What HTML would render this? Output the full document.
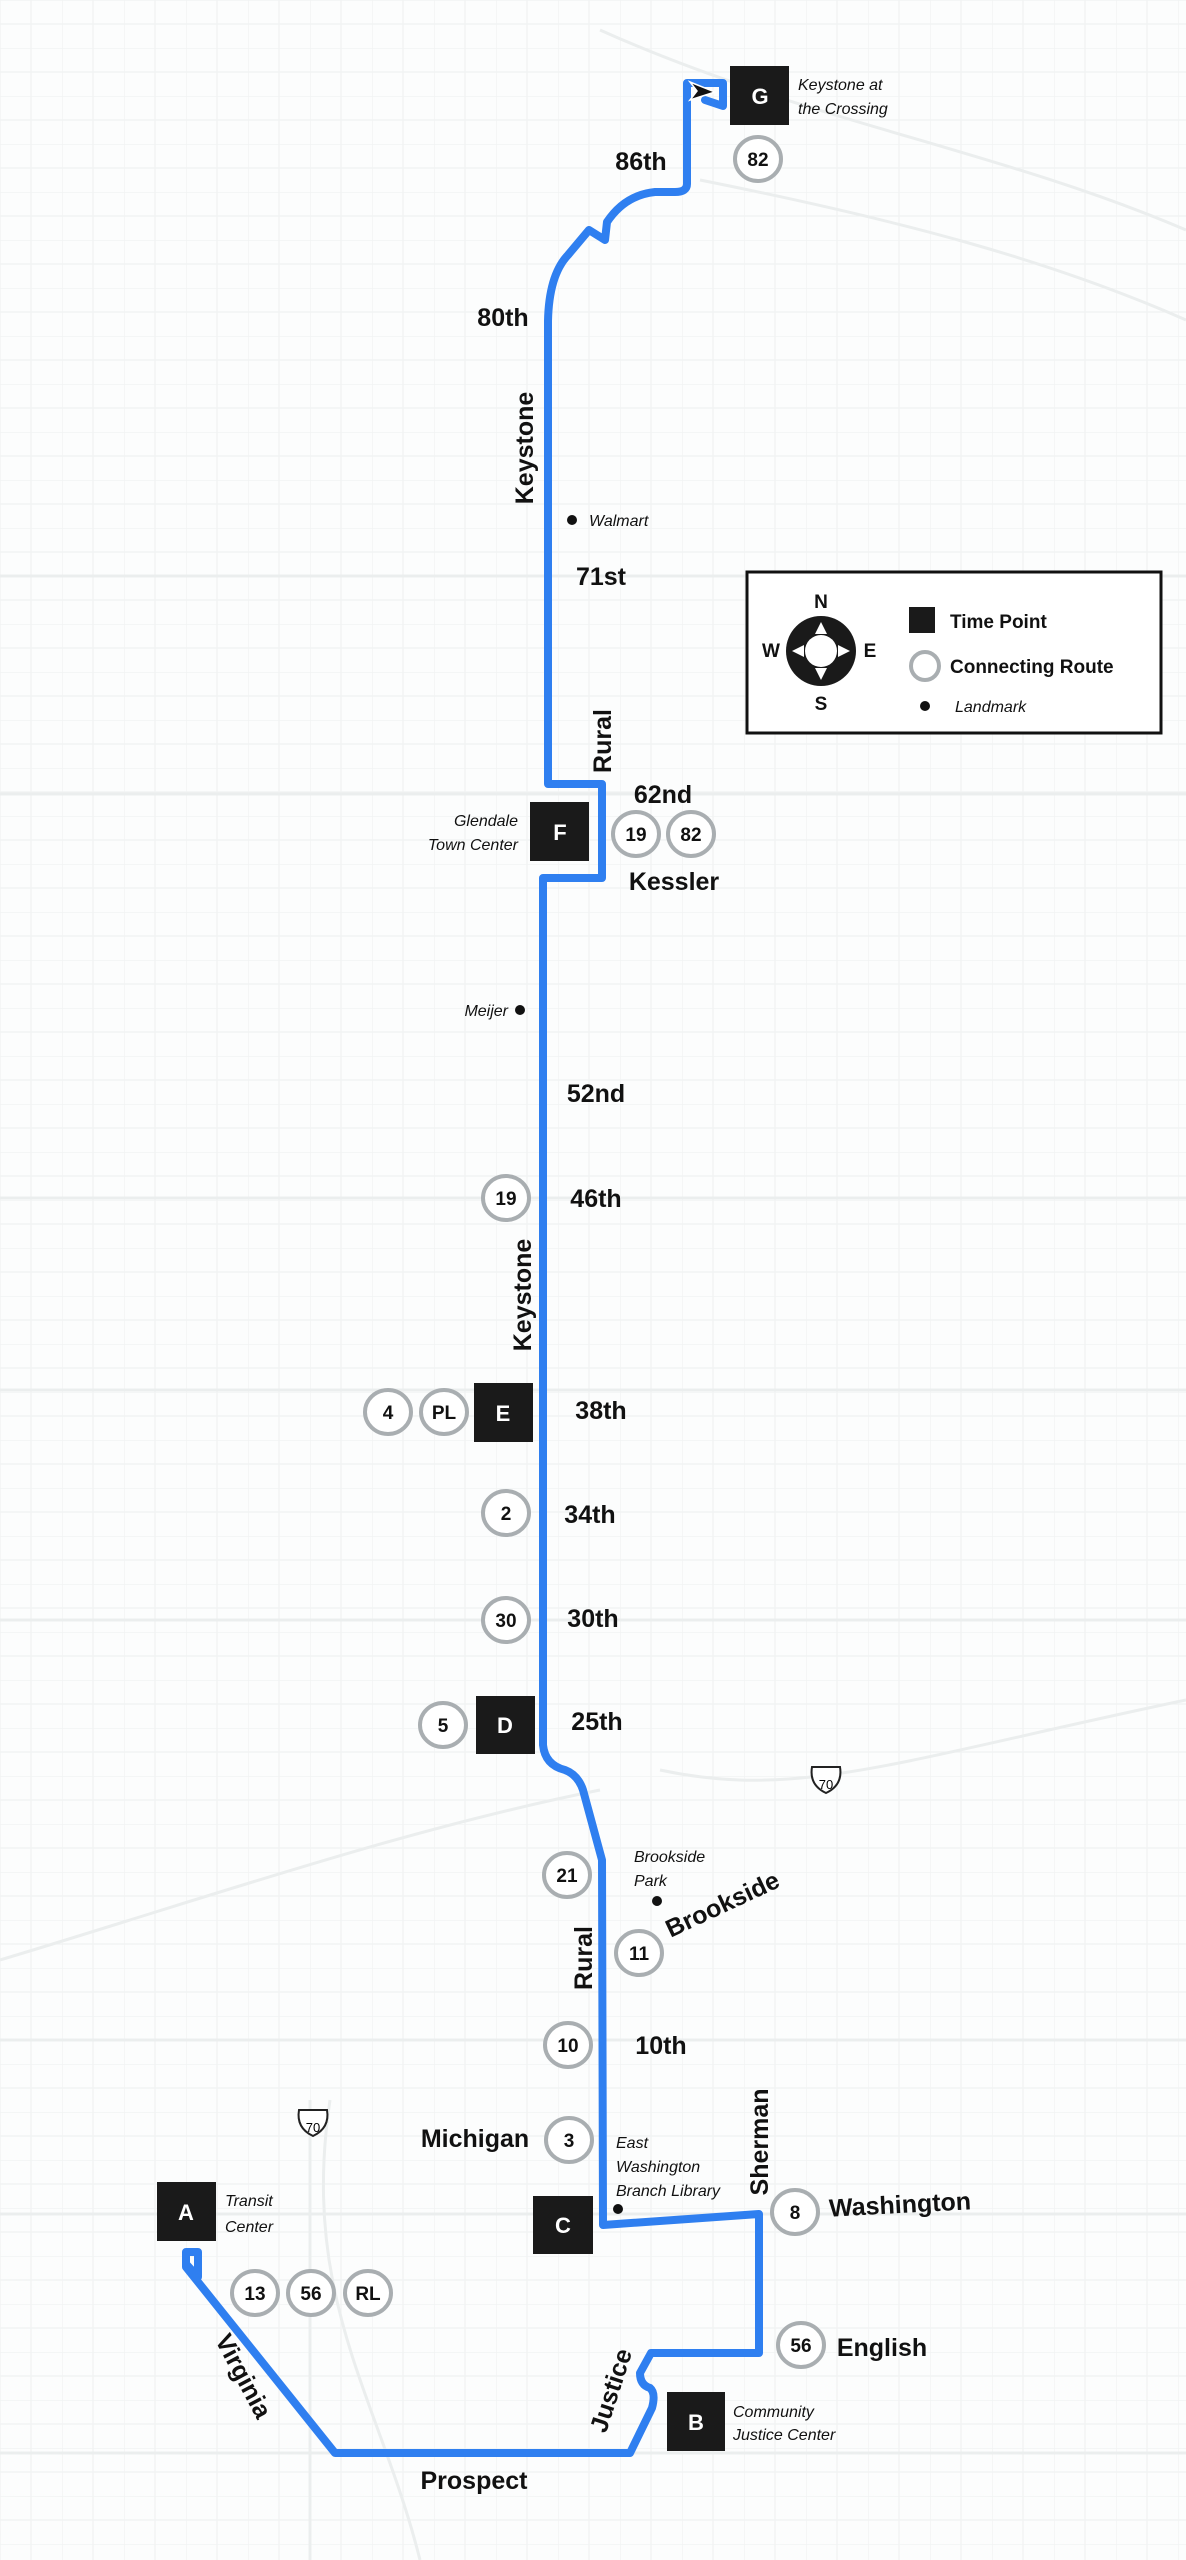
<!DOCTYPE html>
<html><head><meta charset="utf-8"><style>
html,body{margin:0;padding:0;background:#fcfdfd}
svg{display:block}
.st{font-family:"Liberation Sans",sans-serif;font-weight:bold;font-size:25px;fill:#111}
.lm{font-family:"Liberation Sans",sans-serif;font-style:italic;font-size:16px;fill:#111}
.cn{font-family:"Liberation Sans",sans-serif;font-weight:bold;font-size:19px;fill:#111}
.tp{font-family:"Liberation Sans",sans-serif;font-weight:bold;font-size:22px;fill:#fff}
</style></head><body>
<svg width="1186" height="2560" viewBox="0 0 1186 2560" xmlns="http://www.w3.org/2000/svg">
<defs>
<pattern id="g" width="62" height="48" patternUnits="userSpaceOnUse">
<path d="M0 0H62M0 0V48M31 0V48M0 24H62" stroke="#f0f2f2" stroke-width="1.2" fill="none"/>
</pattern>
</defs>
<rect width="1186" height="2560" fill="#fcfdfd"/>
<rect width="1186" height="2560" fill="url(#g)"/>
<g stroke="#ebeeee" stroke-width="3" fill="none">
<path d="M0 1390H1186M0 1620H1186M0 1198H1186M0 2040H1186M0 2214H1186M0 2453H1186M0 576H1186M0 794H1186"/>
<path d="M660 1770C800 1800 900 1760 1186 1700M0 1960C200 1900 400 1830 600 1790"/>
<path d="M310 2100V2560M330 2100C300 2300 380 2400 420 2560"/>
<path d="M600 30C800 120 1000 150 1186 230M700 180C900 220 1050 260 1186 320"/>
</g>
<g fill="none" stroke="#2f7ff0" stroke-width="8" stroke-linejoin="round" stroke-linecap="round">
<path d="M687 184V83H723V106L705 100M687 184Q687 192 675 192H655Q625 195 607 222L605 240L589 230L568 255Q549 275 548 321V784H602V878H543V1745Q545 1765 565 1770Q578 1775 583 1790L602 1860L603 2225L759 2214V2353H651L640 2373Q640 2385 650 2388Q656 2393 652 2408L630 2453H335L186 2267V2252H198V2277L186 2264"/>
</g>
<path d="M690 82L715 92L690 100L697 91Z" fill="#111" stroke="#fff" stroke-width="1.5"/>
<g fill="#1a1a1a">
<rect x="730" y="66" width="59" height="59"/><rect x="530" y="802" width="59" height="59"/>
<rect x="474" y="1383" width="59" height="59"/><rect x="476" y="1696" width="59" height="58"/>
<rect x="533" y="2196" width="60" height="58"/><rect x="667" y="2392" width="58" height="59"/>
<rect x="157" y="2182" width="59" height="59"/>
</g>
<g class="tp" text-anchor="middle">
<text x="760" y="104">G</text><text x="560" y="840">F</text><text x="503" y="1421">E</text>
<text x="505" y="1733">D</text><text x="563" y="2233">C</text><text x="696" y="2430">B</text><text x="186" y="2220">A</text>
</g>
<g fill="#fff" stroke="#a9aeb1" stroke-width="4">
<ellipse cx="758" cy="159" rx="23" ry="22"/><ellipse cx="636" cy="834" rx="23" ry="22"/><ellipse cx="691" cy="834" rx="23" ry="22"/>
<ellipse cx="506" cy="1198" rx="23" ry="22"/><ellipse cx="388" cy="1412" rx="23" ry="22"/><ellipse cx="444" cy="1412" rx="23" ry="22"/>
<ellipse cx="506" cy="1513" rx="23" ry="22"/><ellipse cx="506" cy="1620" rx="23" ry="22"/><ellipse cx="443" cy="1725" rx="23" ry="22"/>
<ellipse cx="567" cy="1875" rx="23" ry="22"/><ellipse cx="639" cy="1953" rx="23" ry="22"/><ellipse cx="568" cy="2045" rx="23" ry="22"/>
<ellipse cx="569" cy="2140" rx="23" ry="22"/><ellipse cx="795" cy="2212" rx="23" ry="22"/><ellipse cx="801" cy="2345" rx="23" ry="22"/>
<ellipse cx="255" cy="2293" rx="23" ry="22"/><ellipse cx="311" cy="2293" rx="23" ry="22"/><ellipse cx="368" cy="2293" rx="23" ry="22"/>
</g>
<g class="cn" text-anchor="middle">
<text x="758" y="166">82</text><text x="636" y="841">19</text><text x="691" y="841">82</text>
<text x="506" y="1205">19</text><text x="388" y="1419">4</text><text x="444" y="1419">PL</text>
<text x="506" y="1520">2</text><text x="506" y="1627">30</text><text x="443" y="1732">5</text>
<text x="567" y="1882">21</text><text x="639" y="1960">11</text><text x="568" y="2052">10</text>
<text x="569" y="2147">3</text><text x="795" y="2219">8</text><text x="801" y="2352">56</text>
<text x="255" y="2300">13</text><text x="311" y="2300">56</text><text x="368" y="2300">RL</text>
</g>
<g class="st" text-anchor="middle">
<text x="641" y="170">86th</text><text x="503" y="326">80th</text><text x="601" y="585">71st</text>
<text x="663" y="803">62nd</text><text x="674" y="890">Kessler</text>
<text x="596" y="1102">52nd</text><text x="596" y="1207">46th</text>
<text x="601" y="1419">38th</text><text x="590" y="1523">34th</text><text x="593" y="1627">30th</text><text x="597" y="1730">25th</text>
<text x="661" y="2054">10th</text><text x="475" y="2147">Michigan</text>
<text x="900" y="2213" transform="rotate(-3 900 2204)">Washington</text>
<text x="882" y="2356">English</text><text x="474" y="2489">Prospect</text>
<text transform="translate(533 448) rotate(-90)">Keystone</text>
<text transform="translate(531 1295) rotate(-90)">Keystone</text>
<text transform="translate(611 741) rotate(-90)">Rural</text>
<text transform="translate(592 1958) rotate(-90)">Rural</text>
<text transform="translate(768 2142) rotate(-90)">Sherman</text>
<text transform="translate(726 1912) rotate(-25)">Brookside</text>
<text transform="translate(619 2393) rotate(-72)">Justice</text>
<text transform="translate(236 2380) rotate(62)">Virginia</text>
</g>
<g fill="#111"><circle cx="572" cy="520" r="5"/><circle cx="520" cy="1010" r="5"/><circle cx="657" cy="1901" r="5"/><circle cx="618" cy="2209" r="5"/></g>
<g class="lm">
<text x="589" y="526">Walmart</text>
<text x="508" y="1016" text-anchor="end">Meijer</text>
<text x="518" y="826" text-anchor="end">Glendale</text><text x="518" y="850" text-anchor="end">Town Center</text>
<text x="798" y="90">Keystone at</text><text x="798" y="114">the Crossing</text>
<text x="634" y="1862">Brookside</text><text x="634" y="1886">Park</text>
<text x="616" y="2148">East</text><text x="616" y="2172">Washington</text><text x="616" y="2196">Branch Library</text>
<text x="225" y="2206">Transit</text><text x="225" y="2232">Center</text>
<text x="733" y="2417">Community</text><text x="733" y="2440">Justice Center</text>
</g>
<g>
<path d="M812 1767H840Q843 1785 826 1793Q809 1785 812 1767Z" fill="#fff" stroke="#222" stroke-width="2"/>
<text x="826" y="1789" text-anchor="middle" font-family="Liberation Sans,sans-serif" font-size="13">70</text>
<path d="M299 2110H327Q330 2128 313 2136Q296 2128 299 2110Z" fill="#fff" stroke="#222" stroke-width="2"/>
<text x="313" y="2132" text-anchor="middle" font-family="Liberation Sans,sans-serif" font-size="13">70</text>
</g>
<rect x="747" y="572" width="414" height="161" fill="#fff" stroke="#111" stroke-width="3"/>
<circle cx="821" cy="651" r="35" fill="#1a1a1a"/>
<circle cx="821" cy="651" r="16" fill="#fff"/>
<g fill="#fff"><path d="M821 622L815 634H827Z"/><path d="M821 680L815 668H827Z"/><path d="M792 651L804 645V657Z"/><path d="M850 651L838 645V657Z"/></g>
<g class="cn" text-anchor="middle" font-size="17"><text x="821" y="608">N</text><text x="821" y="710">S</text><text x="771" y="657">W</text><text x="870" y="657">E</text></g>
<rect x="909" y="607" width="26" height="26" fill="#1a1a1a"/>
<circle cx="925" cy="666" r="14" fill="#fff" stroke="#a9aeb1" stroke-width="4"/>
<circle cx="925" cy="706" r="5" fill="#111"/>
<g class="cn"><text x="950" y="628">Time Point</text><text x="950" y="673">Connecting Route</text></g>
<text class="lm" x="955" y="712">Landmark</text>
</svg>
</body></html>
